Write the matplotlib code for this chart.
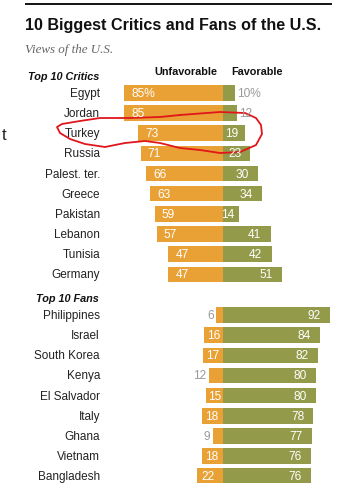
import numpy as np
import matplotlib
matplotlib.use('Agg')
import matplotlib.pyplot as plt

# Pew: views of the U.S., unfavorable vs favorable (%)
critics = ['Egypt', 'Jordan', 'Turkey', 'Russia', 'Palest. ter.', 'Greece',
           'Pakistan', 'Lebanon', 'Tunisia', 'Germany']
critics_unfav = [85, 85, 73, 71, 66, 63, 59, 57, 47, 47]
critics_fav = [10, 12, 19, 23, 30, 34, 14, 41, 42, 51]

fans = ['Philippines', 'Israel', 'South Korea', 'Kenya', 'El Salvador',
        'Italy', 'Ghana', 'Vietnam', 'Bangladesh']
fans_unfav = [6, 16, 17, 12, 15, 18, 9, 18, 22]
fans_fav = [92, 84, 82, 80, 80, 78, 77, 76, 76]

ORANGE = '#E9A135'
OLIVE = '#939B4B'
GRAY = '#9a9a9a'
W, H = 352, 483
ZERO = 223      # pixel of 0 %
PX = 1.16       # pixels per percentage point

plt.rcParams['font.family'] = ['Liberation Sans', 'DejaVu Sans']

fig = plt.figure(figsize=(W / 100, H / 100), dpi=100)
ax = fig.add_axes([0, 0, 1, 1])
ax.set_xlim(-ZERO / PX, (W - ZERO) / PX)
ax.set_ylim(H, 0)
ax.axis('off')

def px2u(p):
    return (p - ZERO) / PX

bar_h = 15.5

def draw_group(names, unfav, fav, y0, pct_first):
    ys = y0 + 20.15 * np.arange(len(names))
    ax.barh(ys, [-u for u in unfav], height=bar_h, color=ORANGE, linewidth=0)
    ax.barh(ys, fav, height=bar_h, color=OLIVE, linewidth=0)
    for i, (n, u, f, y) in enumerate(zip(names, unfav, fav, ys)):
        yb = y + 4
        ax.text(px2u(100), yb, n, ha='right', va='baseline', fontsize=8.5, color='#222')
        su = '%d%%' % u if (pct_first and i == 0) else str(u)
        sf = '%d%%' % f if (pct_first and i == 0) else str(f)
        if u <= 12:
            ax.text(-u - 2.5 / PX, yb, su, ha='right', va='baseline', fontsize=8.6, color=GRAY)
        else:
            ax.text(-u + min(6, 0.15 * u), yb, su, ha='left', va='baseline', fontsize=8.6, color='white')
        if f <= 12:
            ax.text(f + 2 / PX, yb, sf, ha='left', va='baseline', fontsize=8.6, color=GRAY)
        else:
            ax.text(f - min(8, 0.3 * f), yb, sf, ha='right', va='baseline', fontsize=8.6, color='white')

draw_group(critics, critics_unfav, critics_fav, 92.9, True)
draw_group(fans, fans_unfav, fans_fav, 315, False)

# header texts
ax.plot([px2u(25), px2u(332)], [4, 4], color='black', lw=1.3, solid_capstyle='butt')
ax.text(px2u(25), 30, '10 Biggest Critics and Fans of the U.S.', ha='left', va='baseline',
        fontsize=11.6, fontweight='bold', color='#111')
ax.text(px2u(25), 53, 'Views of the U.S.', ha='left', va='baseline',
        fontsize=9.4, style='italic', family='Liberation Serif', color='#666')
ax.text(px2u(99), 79.5, 'Top 10 Critics', ha='right', va='baseline',
        fontsize=7.8, fontweight='bold', style='italic', color='#111')
ax.text(px2u(217), 75, 'Unfavorable', ha='right', va='baseline',
        fontsize=7.8, fontweight='bold', color='#111')
ax.text(px2u(231), 75, 'Favorable', ha='left', va='baseline',
        fontsize=7.8, fontweight='bold', color='#111')
ax.text(px2u(99), 301.5, 'Top 10 Fans', ha='right', va='baseline',
        fontsize=7.8, fontweight='bold', style='italic', color='#111')

# stray letter from the screenshot edge
ax.text(px2u(2), 140, 't', ha='left', va='baseline', fontsize=12, color='#222')

# red hand-drawn loop around Turkey
loop_x = [180, 220, 245, 256, 261, 262, 256, 240, 220, 200, 180, 160, 145, 125, 105, 85, 70, 60, 57, 62, 80, 100, 130, 160, 180]
loop_y = [115, 112, 113, 118, 125, 134, 145, 152, 153, 150, 148, 143, 141, 143, 147, 144, 139, 133, 127, 124, 121, 118, 118, 117, 115]
ax.plot([px2u(p) for p in loop_x], loop_y, color='#e0161b', lw=1.3, solid_joinstyle='round')

fig.savefig('out.png', dpi=100)
